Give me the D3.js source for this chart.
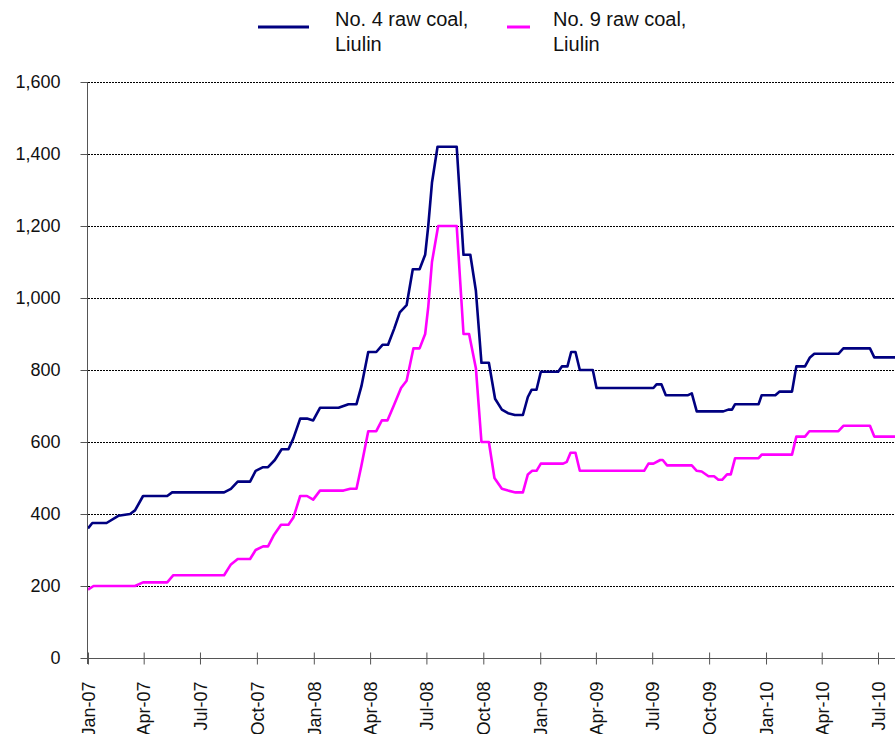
<!DOCTYPE html>
<html>
<head>
<meta charset="utf-8">
<script src="https://cdn.jsdelivr.net/npm/d3@7"></script>
<style>
  body { margin: 0; background: #fff; }
  svg { display: block; font-family: "Liberation Sans", Arial, sans-serif; }
</style>
</head>
<body>
<svg id="chart" width="895" height="734"></svg>
<script>
// series names (legend)
const seriesNames = ["No. 4 raw coal,|Liulin", "No. 9 raw coal,|Liulin"];
const seriesColors = ["#000080", "#ff00ff"];

// No. 4 raw coal, Liulin
const no4Dates = ["2007-01-01","2007-01-08","2007-01-31","2007-02-19","2007-03-10","2007-03-18","2007-03-31",
  "2007-05-09","2007-05-17","2007-08-09","2007-08-20","2007-08-31","2007-09-20","2007-09-29","2007-10-11",
  "2007-10-19","2007-10-30","2007-11-10","2007-11-21","2007-11-29","2007-12-10","2007-12-21","2007-12-31",
  "2008-01-11","2008-02-10","2008-02-26","2008-03-10","2008-03-18","2008-03-29","2008-04-11","2008-04-21",
  "2008-04-30","2008-05-10","2008-05-19","2008-05-30","2008-06-09","2008-06-20","2008-06-29","2008-07-04",
  "2008-07-10","2008-07-19","2008-08-19","2008-08-30","2008-09-10","2008-09-19","2008-09-28","2008-10-10",
  "2008-10-20","2008-10-31","2008-11-10","2008-11-21","2008-12-04","2008-12-12","2008-12-18","2008-12-26",
  "2009-01-02","2009-01-30","2009-02-05","2009-02-14","2009-02-20","2009-02-27","2009-03-06","2009-03-27",
  "2009-04-02","2009-07-03","2009-07-08","2009-07-16","2009-07-23","2009-08-28","2009-09-03","2009-09-11",
  "2009-10-24","2009-11-01","2009-11-07","2009-11-12","2009-12-20","2009-12-25","2010-01-16","2010-01-23",
  "2010-02-12","2010-02-19","2010-03-05","2010-03-13","2010-03-20","2010-04-28","2010-05-06","2010-06-18",
  "2010-06-25","2010-08-15"];
const no4Values = [360,375,375,395,400,410,450,
  450,460,460,470,490,490,520,530,
  530,550,580,580,610,665,665,660,
  695,695,705,705,755,850,850,870,
  870,915,960,980,1080,1080,1120,1200,
  1320,1420,1420,1120,1120,1020,820,820,
  720,690,680,675,675,725,745,745,
  795,795,810,810,850,850,800,800,
  750,750,760,760,730,730,735,685,
  685,690,690,705,705,730,730,740,
  740,810,810,835,845,845,860,860,
  835,835];

// No. 9 raw coal, Liulin
const no9Dates = ["2007-01-01","2007-01-10","2007-03-18","2007-03-31","2007-05-09","2007-05-19","2007-08-09",
  "2007-08-20","2007-08-31","2007-09-20","2007-09-29","2007-10-11","2007-10-19","2007-10-28","2007-11-09",
  "2007-11-21","2007-11-29","2007-12-10","2007-12-21","2007-12-31","2008-01-11","2008-02-18","2008-02-29",
  "2008-03-10","2008-03-18","2008-03-29","2008-04-11","2008-04-20","2008-04-29","2008-05-09","2008-05-21",
  "2008-05-30","2008-06-10","2008-06-20","2008-06-29","2008-07-04","2008-07-10","2008-07-20","2008-08-19",
  "2008-08-30","2008-09-08","2008-09-19","2008-09-28","2008-10-10","2008-10-19","2008-10-31","2008-11-10",
  "2008-11-22","2008-12-04","2008-12-12","2008-12-19","2008-12-26","2009-01-02","2009-02-07","2009-02-13",
  "2009-02-19","2009-02-27","2009-03-06","2009-06-18","2009-06-25","2009-07-03","2009-07-14","2009-07-18",
  "2009-07-25","2009-09-03","2009-09-11","2009-09-19","2009-09-30","2009-10-09","2009-10-16","2009-10-22",
  "2009-10-30","2009-11-05","2009-11-12","2009-12-20","2009-12-25","2010-02-12","2010-02-19","2010-03-05",
  "2010-03-12","2010-04-28","2010-05-06","2010-06-18","2010-06-25","2010-08-15"];
const no9Values = [190,200,200,210,210,230,230,
  260,275,275,300,310,310,340,370,
  370,390,450,450,440,465,465,470,
  470,535,630,630,660,660,700,750,
  770,860,860,900,975,1100,1200,1200,
  900,900,805,600,600,500,470,465,
  460,460,510,520,520,540,540,545,
  570,570,520,520,540,540,550,550,
  535,535,520,518,505,505,495,495,
  510,510,555,555,565,565,615,615,
  630,630,645,645,615,615];

const yTicks = [0, 200, 400, 600, 800, 1000, 1200, 1400, 1600];

const svg = d3.select("#chart");
const W = 895, H = 734;
const plot = {left: 88, top: 82, bottom: 658, right: 895};
const parse = d3.utcParse("%Y-%m-%d");

const x = d3.scaleUtc()
    .domain([parse("2007-01-01"), parse("2010-07-01")])
    .range([88, 878]);
const y = d3.scaleLinear()
    .domain([0, 1600])
    .range([plot.bottom, plot.top]);

// horizontal dotted grid
svg.append("g").selectAll("line").data(yTicks.filter(d => d > 0))
    .enter().append("line")
    .attr("x1", plot.left).attr("x2", plot.right)
    .attr("y1", d => y(d) + 0.5).attr("y2", d => y(d) + 0.5)
    .attr("stroke", "#000")
    .attr("stroke-width", 1)
    .attr("stroke-dasharray", "2,1");

// y axis
const yAxis = svg.append("g")
    .attr("transform", `translate(${plot.left - 0.5},0)`)
    .call(d3.axisLeft(y).tickValues(yTicks).tickSize(7).tickPadding(20).tickFormat(d3.format(",")));
yAxis.select(".domain").attr("stroke", "#555").attr("d", `M0,${plot.top}V${plot.bottom + 6}`);
yAxis.selectAll(".tick line").attr("stroke", "#555");
yAxis.selectAll("text").style("font-size", "18px").attr("fill", "#111");

// x axis
const xTicks = d3.utcMonth.every(3).range(parse("2007-01-01"), parse("2010-07-02"));
const xAxis = svg.append("g")
    .attr("transform", `translate(0,${plot.bottom + 0.5})`)
    .call(d3.axisBottom(x).tickValues(xTicks).tickSize(6).tickFormat(d3.utcFormat("%b-%y")));
xAxis.select(".domain").attr("stroke", "#555").attr("d", `M${plot.left},0H${W}`);
xAxis.selectAll(".tick line").attr("stroke", "#555").attr("y1", -6);
xAxis.selectAll(".tick text")
    .style("font-size", "18px")
    .attr("fill", "#111")
    .attr("text-anchor", "end")
    .attr("transform", "rotate(-90)")
    .attr("x", -23)
    .attr("y", 0)
    .attr("dy", "0.35em");

// lines
const line = d3.line()
    .x(d => x(d.date))
    .y(d => y(d.value));

const series = [
  no4Dates.map((d, i) => ({date: parse(d), value: no4Values[i]})),
  no9Dates.map((d, i) => ({date: parse(d), value: no9Values[i]}))
];

svg.append("defs").append("clipPath").attr("id", "clip")
    .append("rect").attr("x", plot.left).attr("y", 0).attr("width", W - plot.left).attr("height", plot.bottom);

svg.append("g").attr("clip-path", "url(#clip)")
    .selectAll("path").data(series)
    .enter().append("path")
    .attr("d", line)
    .attr("fill", "none")
    .attr("stroke", (d, i) => seriesColors[i])
    .attr("stroke-width", 2.6)
    .attr("stroke-linejoin", "round");

// legend
const legendPos = [{x1: 258, x2: 309, tx: 335}, {x1: 507, x2: 530, tx: 553}];
const legend = svg.append("g").selectAll("g").data(seriesNames)
    .enter().append("g");
legend.append("line")
    .attr("x1", (d, i) => legendPos[i].x1)
    .attr("x2", (d, i) => legendPos[i].x2)
    .attr("y1", 27).attr("y2", 27)
    .attr("stroke", (d, i) => seriesColors[i])
    .attr("stroke-width", 3);
legend.append("text")
    .attr("x", (d, i) => legendPos[i].tx)
    .attr("y", 26)
    .style("font-size", "20px")
    .attr("fill", "#111")
    .selectAll("tspan").data(d => d.split("|"))
    .enter().append("tspan")
    .attr("x", function () { return d3.select(this.parentNode).attr("x"); })
    .attr("dy", (d, i) => i === 0 ? 0 : 25)
    .text(d => d);
</script>
</body>
</html>
